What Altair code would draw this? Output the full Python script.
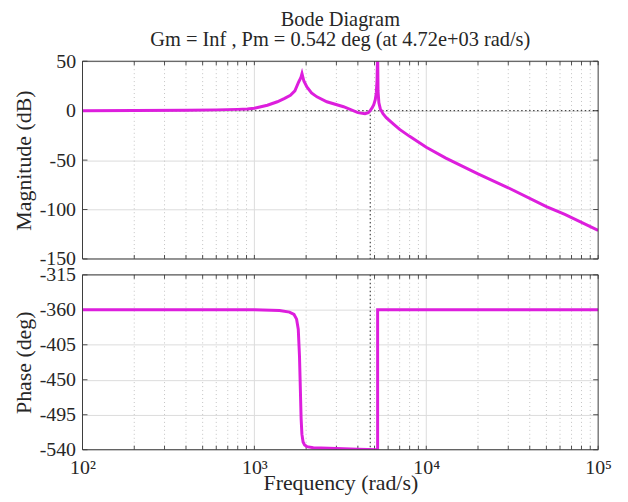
import altair as alt
import pandas as pd

# ---- data ----
mag_freq = [100, 200, 400, 600, 800, 910, 1000, 1190, 1360, 1500, 1620, 1720, 1810, 1860, 1892,
            1940, 2020, 2150, 2310, 2640, 3300, 4000, 4400, 4600, 4720, 4850, 4950, 5050, 5120,
            5170, 5212, 5240, 5300, 5400, 5600, 5850, 6500, 7000, 8000, 10000, 13000, 20000,
            30000, 50000, 64000, 100000]
mag_db = [0, 0.1, 0.4, 0.8, 1.3, 1.7, 2.5, 5.5, 9, 12.5, 15.5, 20, 29, 33, 37.5,
          30, 24, 18, 14, 9, 4, -2, -3, -2, 0, 3, 6, 11, 18,
          30, 60, 20, 8, 2, -3, -7, -14, -19, -26, -37, -48, -64,
          -78, -97, -105, -121]

phase_freq = [100, 1000, 1400, 1600, 1700, 1760, 1800, 1830, 1850, 1870, 1890, 1920, 1960,
              2020, 2200, 3000, 4000, 5212, 5212, 10000, 100000]
phase_deg = [-360, -360, -361, -363, -366, -372, -385, -420, -460, -500, -520, -530, -534,
             -536, -537.5, -538.5, -539.3, -540, -360, -360, -360]

decades = [100, 1000, 10000, 100000]
minor_freqs = [m * d for d in [100, 1000, 10000] for m in range(2, 10)]
mag_ticks = [50, 0, -50, -100, -150]
phase_ticks = [-315, -360, -405, -450, -495, -540]
wc = 4720  # crossover frequency (rad/s)

title_lines = ["Bode Diagram", "Gm = Inf , Pm = 0.542 deg (at 4.72e+03 rad/s)"]

# ---- style ----
W, H1, H2 = 519, 199, 176
FONT = "Liberation Serif"
TXT = "#262626"
GRID = "#dcdcdc"
MINOR = "#b4b4b4"
LINE = "#dd1edd"
BOX = "#3c3c3c"

xscale = alt.Scale(type="log", domain=[100, 100000], nice=False)
all_x_ticks = pd.DataFrame({"f": decades + minor_freqs})
minor_df = pd.DataFrame({"f": minor_freqs})
major_df = pd.DataFrame({"f": decades[1:-1]})
one_row = pd.DataFrame({"k": [0]})


def panel(df, yfield, ydomain, yticks, ytitle, height, xaxis, vline_top):
    yscale = alt.Scale(domain=ydomain, nice=False, zero=False)
    yaxis = alt.Axis(values=yticks, grid=True, gridColor=GRID, ticks=False, domain=False,
                     labelExpr="'' + datum.value",
                     labelPadding=7, title=ytitle, titlePadding=4)
    ytick_df = pd.DataFrame({"v": yticks})

    def X(field="f"):
        return alt.X(f"{field}:Q", scale=xscale, axis=xaxis)

    def Y(field):
        return alt.Y(f"{field}:Q", scale=yscale, axis=yaxis)

    minor = alt.Chart(minor_df).mark_rule(color=MINOR, strokeDash=[1, 3], strokeWidth=0.8).encode(x=X())
    major = alt.Chart(major_df).mark_rule(color=GRID, strokeWidth=1).encode(x=X())

    tick_top = alt.Chart(all_x_ticks).mark_rule(color=TXT, strokeWidth=0.8).encode(
        x=X(), y=alt.value(0), y2=alt.value(4))
    tick_bot = alt.Chart(all_x_ticks).mark_rule(color=TXT, strokeWidth=0.8).encode(
        x=X(), y=alt.value(height - 4), y2=alt.value(height))
    tick_l = alt.Chart(ytick_df).mark_rule(color=TXT, strokeWidth=0.8).encode(
        y=Y("v"), x=alt.value(0), x2=alt.value(5))
    tick_r = alt.Chart(ytick_df).mark_rule(color=TXT, strokeWidth=0.8).encode(
        y=Y("v"), x=alt.value(W - 5), x2=alt.value(W))

    vdf = pd.DataFrame({"f": [wc], "a": [vline_top], "b": [ydomain[0]]})
    vert = alt.Chart(vdf).mark_rule(color="#222222", strokeDash=[1.5, 2.5], strokeWidth=1).encode(
        x=X(), y=Y("a"), y2="b:Q")

    line = alt.Chart(df).mark_line(color=LINE, strokeWidth=3, clip=True).encode(
        x=X(), y=Y(yfield), order=alt.Order("i:Q"))

    box = alt.Chart(one_row).mark_rect(fill=None, stroke=BOX, strokeWidth=1).encode(
        x=alt.value(0), x2=alt.value(W), y=alt.value(0), y2=alt.value(height))

    layers = [minor, major, vert]
    if vline_top == 0:
        zero = alt.Chart(pd.DataFrame({"v": [0]})).mark_rule(
            color="#222222", strokeDash=[1.5, 2.5], strokeWidth=1).encode(y=Y("v"))
        layers.append(zero)
    layers += [tick_top, tick_bot, tick_l, tick_r, line, box]
    return alt.layer(*layers).properties(width=W, height=height)


mag_df = pd.DataFrame({"f": mag_freq, "db": mag_db, "i": range(len(mag_freq))})
ph_df = pd.DataFrame({"f": phase_freq, "deg": phase_deg, "i": range(len(phase_freq))})

ph_xaxis = alt.Axis(values=decades, ticks=False, domain=False, grid=False,
                    labelExpr="'10' + (datum.value == 100 ? '²' : datum.value == 1000 ? '³' : datum.value == 10000 ? '⁴' : '⁵')",
                    labelFlush=False, labelPadding=8,
                    title="Frequency (rad/s)", titlePadding=-5)

top = panel(mag_df, "db", [-150, 50], mag_ticks, "Magnitude (dB)", H1, None, 0).properties(
    title=alt.TitleParams(title_lines, font=FONT, fontSize=20.5, fontWeight="normal", color=TXT,
                          anchor="middle", lineHeight=20, offset=1))
bot = panel(ph_df, "deg", [-540, -315], phase_ticks, "Phase (deg)", H2, ph_xaxis, -315)

chart = alt.vconcat(top, bot, spacing=16, bounds="flush").properties(
    padding={"left": 4, "top": 0, "right": 8, "bottom": 0},
    background="white",
).configure_view(stroke=None).configure_axis(
    labelFont=FONT, labelFontSize=20, labelColor=TXT,
    titleFont=FONT, titleFontSize=22, titleFontWeight="normal", titleColor=TXT,
).configure_title(
    font=FONT, fontSize=20.5, fontWeight="normal", color=TXT,
)

chart.save("out.html", embed_options={"renderer": "svg", "actions": False})
